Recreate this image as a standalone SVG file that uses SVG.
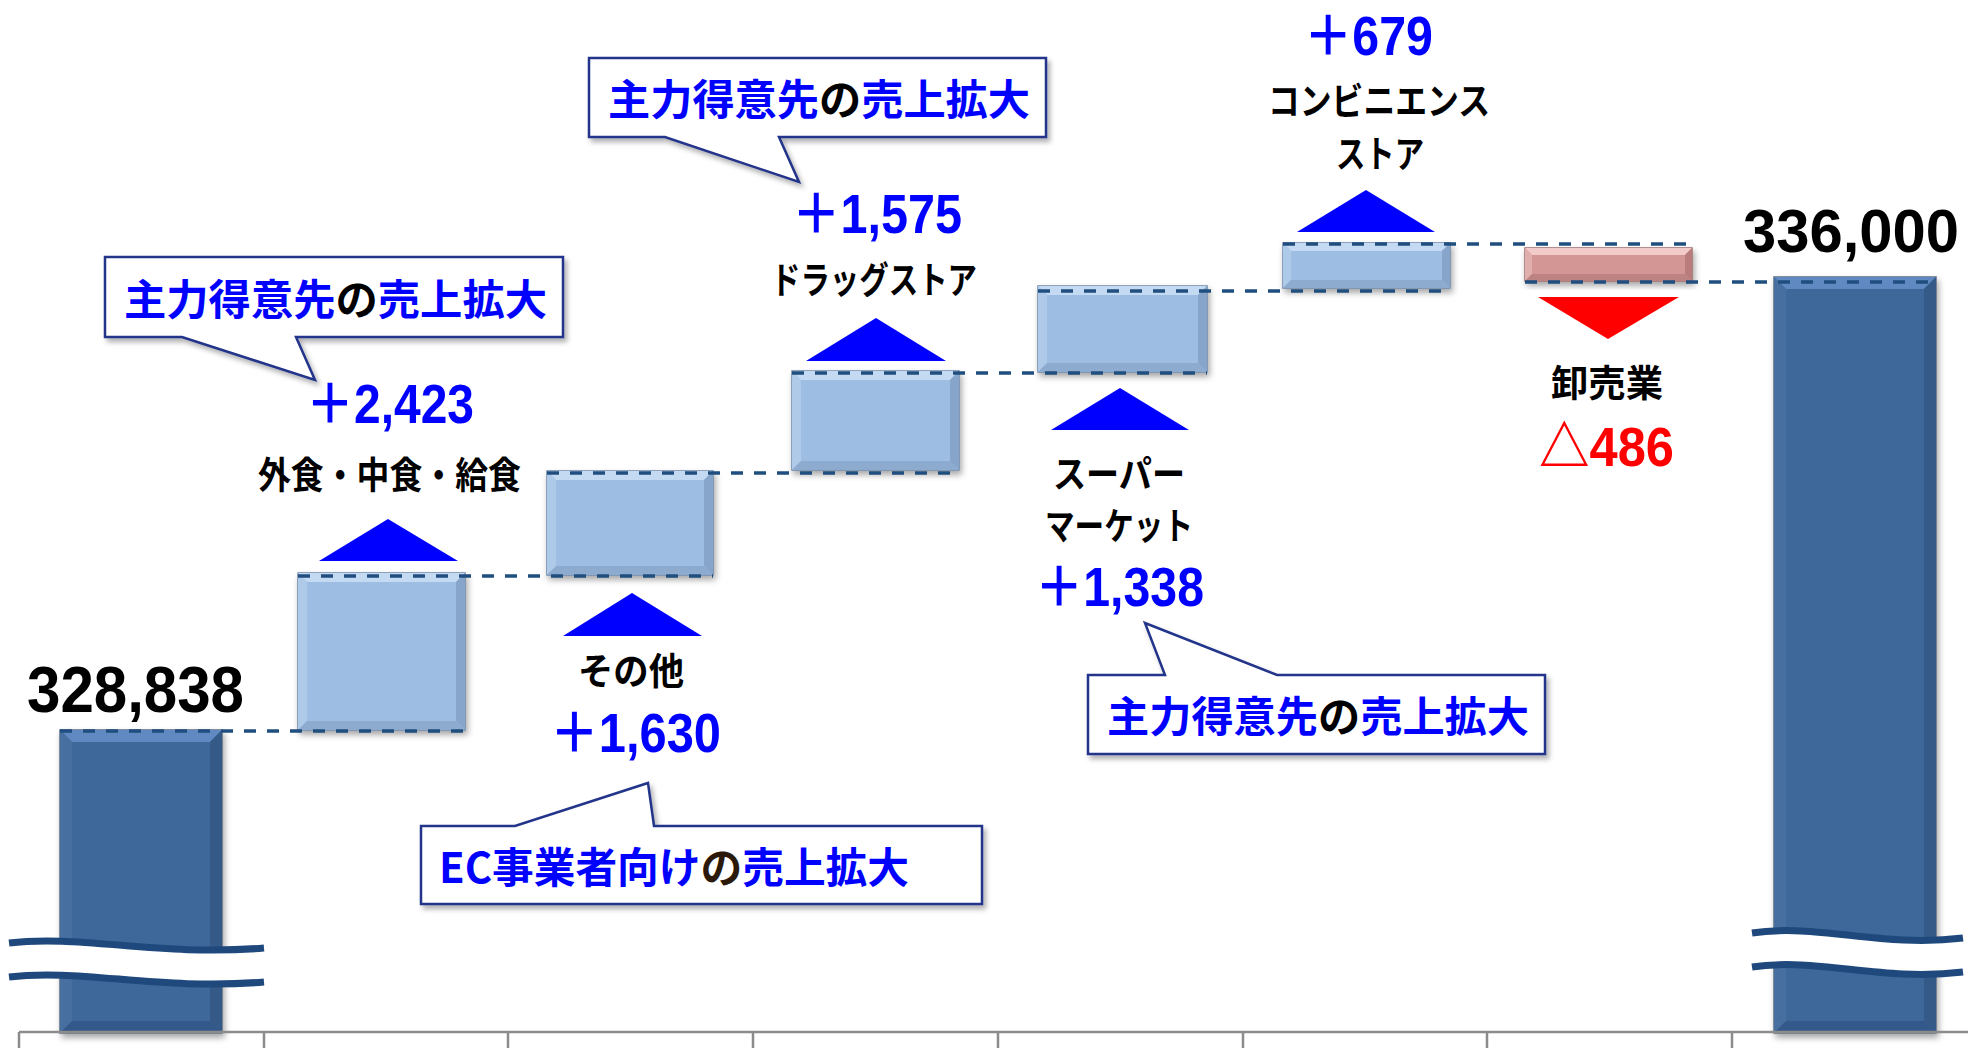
<svg xmlns="http://www.w3.org/2000/svg" width="1968" height="1048" viewBox="0 0 1968 1048">
<defs>
<filter id="sh" x="-10%" y="-10%" width="125%" height="135%"><feDropShadow dx="2" dy="4" stdDeviation="3" flood-color="#000" flood-opacity="0.35"/></filter>
<filter id="csh" x="-5%" y="-10%" width="112%" height="130%"><feDropShadow dx="3" dy="4" stdDeviation="2.5" flood-color="#000" flood-opacity="0.3"/></filter>
</defs>
<style>
.lb .body{fill:#9EBDE2;stroke:#6E86A8;stroke-width:1.5}
.lb .t{fill:#C4DAF2}.lb .l{fill:#AFC9E9}.lb .r{fill:#87A5CA}.lb .b{fill:#8DAACF}
.pk .body{fill:#D39694;stroke:#9E6E6E;stroke-width:1.5}
.pk .t{fill:#F3CACA}.pk .l{fill:#E0AEAD}.pk .r{fill:#B87C7B}.pk .b{fill:#BC8382}
.dk .body{fill:#3E6899;stroke:#5C6C82;stroke-width:1.5}
.dk .t{fill:#6089C1}.dk .l{fill:#476FA0}.dk .r{fill:#345A87}.dk .b{fill:#36598A}
.dash{stroke:#1F4E7F;stroke-width:3.5;stroke-dasharray:12 11;fill:none}
.tri{fill:#0000FF}
.lbl{font-family:"Noto Sans CJK JP","Noto Sans CJK SC",sans-serif;font-weight:700;font-size:37px;fill:#000}
.num{font-family:"Liberation Sans","Noto Sans CJK JP",sans-serif;font-weight:700;font-size:55px;fill:#0000FF}
.big{font-family:"Liberation Sans",Arial,sans-serif;font-weight:700;font-size:64px;fill:#000}
.co{font-family:"Noto Sans CJK JP","Noto Sans CJK SC",sans-serif;font-weight:700;font-size:42px;fill:#0000FF}
.cb{fill:#fff;stroke:#22348A;stroke-width:2.5;stroke-linejoin:miter}
.brk{fill:none;stroke:#1F497D;stroke-width:7}
.axis{stroke:#8C8C8C;stroke-width:2.5;fill:none}
</style>
<rect x="0" y="0" width="1968" height="1048" fill="#fff"/>

<!-- bars -->
<g id="bar-start" class="dk" filter="url(#sh)">
<rect class="body" x="60" y="730" width="162" height="303"/>
<polygon class="t" points="60,730 222,730 210,742 72,742"/>
<polygon class="l" points="60,730 72,742 72,1021 60,1033"/>
<polygon class="r" points="222,730 222,1033 210,1021 210,742"/>
<polygon class="b" points="60,1033 72,1021 210,1021 222,1033"/>
<rect x="72" y="742" width="138" height="279" fill="#3E6899"/>
</g>
<g id="box-gaishoku" class="lb" filter="url(#sh)">
<rect class="body" x="298" y="573" width="167" height="157"/>
<polygon class="t" points="298,573 465,573 456,582 307,582"/>
<polygon class="l" points="298,573 307,582 307,721 298,730"/>
<polygon class="r" points="465,573 465,730 456,721 456,582"/>
<polygon class="b" points="298,730 307,721 456,721 465,730"/>
</g>
<g id="box-sonota" class="lb" filter="url(#sh)">
<rect class="body" x="547" y="471" width="166" height="104"/>
<polygon class="t" points="547,471 713,471 704,480 556,480"/>
<polygon class="l" points="547,471 556,480 556,566 547,575"/>
<polygon class="r" points="713,471 713,575 704,566 704,480"/>
<polygon class="b" points="547,575 556,566 704,566 713,575"/>
</g>
<g id="box-drug" class="lb" filter="url(#sh)">
<rect class="body" x="792" y="371" width="167" height="99"/>
<polygon class="t" points="792,371 959,371 950,380 801,380"/>
<polygon class="l" points="792,371 801,380 801,461 792,470"/>
<polygon class="r" points="959,371 959,470 950,461 950,380"/>
<polygon class="b" points="792,470 801,461 950,461 959,470"/>
</g>
<g id="box-super" class="lb" filter="url(#sh)">
<rect class="body" x="1038" y="286" width="169" height="86"/>
<polygon class="t" points="1038,286 1207,286 1198,295 1047,295"/>
<polygon class="l" points="1038,286 1047,295 1047,363 1038,372"/>
<polygon class="r" points="1207,286 1207,372 1198,363 1198,295"/>
<polygon class="b" points="1038,372 1047,363 1198,363 1207,372"/>
</g>
<g id="box-cvs" class="lb" filter="url(#sh)">
<rect class="body" x="1283" y="243" width="167" height="45"/>
<polygon class="t" points="1283,243 1450,243 1442,251 1291,251"/>
<polygon class="l" points="1283,243 1291,251 1291,280 1283,288"/>
<polygon class="r" points="1450,243 1450,288 1442,280 1442,251"/>
<polygon class="b" points="1283,288 1291,280 1442,280 1450,288"/>
</g>
<g id="box-oroshi" class="pk" filter="url(#sh)">
<rect class="body" x="1525" y="248" width="167" height="33"/>
<polygon class="t" points="1525,248 1692,248 1685,255 1532,255"/>
<polygon class="l" points="1525,248 1532,255 1532,274 1525,281"/>
<polygon class="r" points="1692,248 1692,281 1685,274 1685,255"/>
<polygon class="b" points="1525,281 1532,274 1685,274 1692,281"/>
</g>
<g id="bar-end" class="dk" filter="url(#sh)">
<rect class="body" x="1774" y="277" width="162" height="756"/>
<polygon class="t" points="1774,277 1936,277 1924,289 1786,289"/>
<polygon class="l" points="1774,277 1786,289 1786,1021 1774,1033"/>
<polygon class="r" points="1936,277 1936,1033 1924,1021 1924,289"/>
<polygon class="b" points="1774,1033 1786,1021 1924,1021 1936,1033"/>
<rect x="1786" y="289" width="138" height="732" fill="#3E6899"/>
</g>

<!-- connectors: dashed level lines -->
<g id="connectors">
<line class="dash" x1="60" y1="731" x2="469" y2="731"/>
<line class="dash" x1="298" y1="576" x2="713" y2="576"/>
<line class="dash" x1="547" y1="473" x2="959" y2="473"/>
<line class="dash" x1="792" y1="373" x2="1207" y2="373"/>
<line class="dash" x1="1038" y1="291" x2="1450" y2="291"/>
<line class="dash" x1="1283" y1="244" x2="1692" y2="244"/>
<line class="dash" x1="1525" y1="282" x2="1936" y2="282"/>
</g>

<!-- axis -->
<g id="axis">
<line class="axis" x1="19" y1="1032" x2="1968" y2="1032"/>
<path class="axis" d="M19,1032V1048M264,1032V1048M508,1032V1048M753,1032V1048M998,1032V1048M1243,1032V1048M1487,1032V1048M1732,1032V1048"/>
</g>

<!-- break marks -->
<g id="break-left">
<path d="M9,943 C80,934 160,957 264,948 L264,982 C160,991 80,968 9,977 Z" fill="#fff"/>
<path class="brk" d="M9,943 C80,934 160,957 264,948"/>
<path class="brk" d="M9,977 C80,968 160,991 264,982"/>
</g>
<g id="break-right">
<path d="M1752,933 C1820,923 1880,948 1963,938 L1963,972 C1880,982 1820,957 1752,967 Z" fill="#fff"/>
<path class="brk" d="M1752,933 C1820,923 1880,948 1963,938"/>
<path class="brk" d="M1752,967 C1820,957 1880,982 1963,972"/>
</g>

<!-- totals -->
<g id="label-start"><text class="big" x="27" y="712" textLength="217" lengthAdjust="spacingAndGlyphs">328,838</text></g>
<g id="label-end"><text class="big" x="1743" y="252" textLength="216" lengthAdjust="spacingAndGlyphs" style="font-size:62px">336,000</text></g>

<!-- category markers and labels -->
<g id="cat-gaishoku">
<polygon class="tri" points="388,519 458,561 319,561"/>
<text class="num" x="306" y="423" textLength="168" lengthAdjust="spacingAndGlyphs">＋2,423</text>
<text class="lbl" x="258" y="489" textLength="263" lengthAdjust="spacingAndGlyphs">外食・中食・給食</text>
</g>
<g id="cat-sonota">
<polygon class="tri" points="632,593 702,636 563,636"/>
<text class="lbl" x="578" y="685" textLength="106" lengthAdjust="spacingAndGlyphs">その他</text>
<text class="num" x="550" y="752" textLength="171" lengthAdjust="spacingAndGlyphs">＋1,630</text>
</g>
<g id="cat-drug">
<polygon class="tri" points="876,318 946,361 806,361"/>
<text class="num" x="792" y="233" textLength="170" lengthAdjust="spacingAndGlyphs">＋1,575</text>
<text class="lbl" x="771" y="294" textLength="206" lengthAdjust="spacingAndGlyphs">ドラッグストア</text>
</g>
<g id="cat-super">
<polygon class="tri" points="1120,388 1189,430 1051,430"/>
<text class="lbl" x="1053" y="488" textLength="132" lengthAdjust="spacingAndGlyphs">スーパー</text>
<text class="lbl" x="1045" y="540" textLength="148" lengthAdjust="spacingAndGlyphs">マーケット</text>
<text class="num" x="1035" y="606" textLength="169" lengthAdjust="spacingAndGlyphs">＋1,338</text>
</g>
<g id="cat-cvs">
<polygon class="tri" points="1366,190 1435,232 1297,232"/>
<text class="num" x="1304" y="55" textLength="129" lengthAdjust="spacingAndGlyphs">＋679</text>
<text class="lbl" x="1268" y="115" textLength="222" lengthAdjust="spacingAndGlyphs">コンビニエンス</text>
<text class="lbl" x="1336" y="168" textLength="88" lengthAdjust="spacingAndGlyphs">ストア</text>
</g>
<g id="cat-oroshi">
<polygon points="1538,297 1679,297 1608,339" fill="#FF0000"/>
<text class="lbl" x="1551" y="397" textLength="112" lengthAdjust="spacingAndGlyphs">卸売業</text>
<text class="num" x="1539" y="466" textLength="135" lengthAdjust="spacingAndGlyphs" style="fill:#FF0000">△486</text>
</g>

<!-- callouts -->
<g id="callout-1">
<path class="cb" filter="url(#csh)" d="M105,257 H563 V337 H296 L315,380 L182,337 H105 Z"/>
<text class="co" x="124" y="315" textLength="423" lengthAdjust="spacingAndGlyphs">主力得意先<tspan fill="#000">の</tspan>売上拡大</text>
</g>
<g id="callout-2">
<path class="cb" filter="url(#csh)" d="M589,58 H1046 V137 H779 L799,182 L665,137 H589 Z"/>
<text class="co" x="608" y="115" textLength="422" lengthAdjust="spacingAndGlyphs">主力得意先<tspan fill="#000">の</tspan>売上拡大</text>
</g>
<g id="callout-3">
<path class="cb" filter="url(#csh)" d="M421,826 H515 L648,783 L654,826 H982 V904 H421 Z"/>
<text class="co" x="439" y="883" textLength="470" lengthAdjust="spacingAndGlyphs">EC事業者向け<tspan fill="#2B1A0A">の</tspan>売上拡大</text>
</g>
<g id="callout-4">
<path class="cb" filter="url(#csh)" d="M1088,675 H1165 L1145,623 L1277,675 H1545 V754 H1088 Z"/>
<text class="co" x="1107" y="732" textLength="422" lengthAdjust="spacingAndGlyphs">主力得意先<tspan fill="#000">の</tspan>売上拡大</text>
</g>
</svg>
